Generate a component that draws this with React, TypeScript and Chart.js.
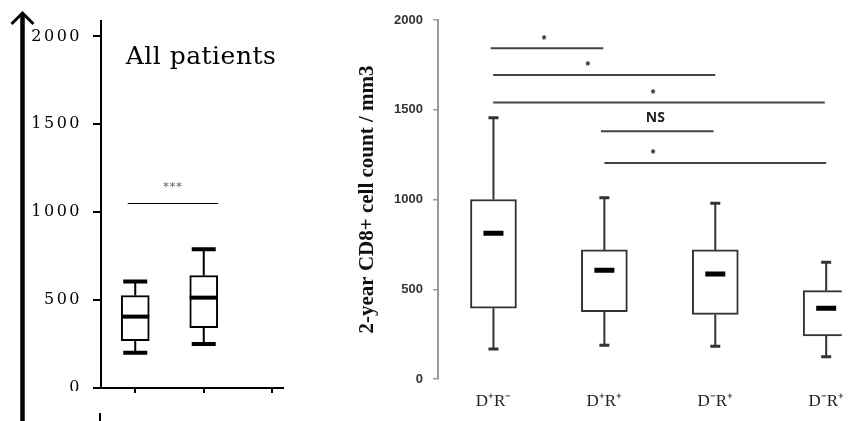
import React, { useEffect, useRef } from 'react';
import { Chart, registerables } from 'chart.js';
Chart.register(...registerables);

// ---------- Left panel: All patients ----------
const allPositions = [0.5, 1.5];
const allMin = [200, 251];
const allQ1 = [269, 343];
const allMedian = [406, 514];
const allQ3 = [526, 640];
const allMax = [606, 789];
const allTicks = [0, 500, 1000, 1500, 2000];
const allXTicks = [0, 1, 2];
const allTitle = 'All patients';
const allSigText = '***';
const allSigY = 1051;
const allSigFrom = 0.39;
const allSigTo = 1.71;

// ---------- Right panel: by D/R status ----------
const groupLabels = ['D⁺R⁻', 'D⁺R⁺', 'D⁻R⁺', 'D⁻R⁺'];
const groupPositions = [0.5, 1.5, 2.5, 3.5];
const groupMin = [167, 188, 182, 124];
const groupQ1 = [394, 375, 360, 240];
const groupMedian = [812, 606, 585, 394];
const groupQ3 = [1000, 719, 719, 492];
const groupMax = [1456, 1010, 979, 650];
const cd8Ticks = [0, 500, 1000, 1500, 2000];
const yTitle = '2-year CD8+ cell count / mm3';
const sigLabels = ['*', '*', '*', 'NS', '*'];
const sigY = [1842, 1693, 1541, 1380, 1203];
const sigFrom = [0.475, 0.497, 0.497, 1.469, 1.5];
const sigTo = [1.49, 2.5, 3.487, 2.484, 3.5];
const sigLabelX = [0.956, 1.35, 1.94, 1.96, 1.94];

type BoxStyle = {
  color: string;
  whiskerWidth: number;
  capHalf: number;
  capWidth: number;
  medHalf: number;
  medWidth: number;
};

function drawBoxes(chart: any, pos: number[], mn: number[], q1: number[], med: number[], q3: number[], mx: number[], st: BoxStyle) {
  const { ctx, scales } = chart;
  const x = scales.x;
  const y = scales.y;
  const ca = chart.chartArea;
  ctx.save();
  ctx.beginPath();
  ctx.rect(ca.left - 20, 0, ca.right - ca.left + 20, chart.height);
  ctx.clip();
  ctx.strokeStyle = st.color;
  ctx.lineCap = 'butt';
  for (let i = 0; i < pos.length; i++) {
    const px = x.getPixelForValue(pos[i]);
    ctx.lineWidth = st.whiskerWidth;
    ctx.beginPath();
    ctx.moveTo(px, y.getPixelForValue(q3[i]));
    ctx.lineTo(px, y.getPixelForValue(mx[i]));
    ctx.moveTo(px, y.getPixelForValue(q1[i]));
    ctx.lineTo(px, y.getPixelForValue(mn[i]));
    ctx.stroke();
    ctx.lineWidth = st.capWidth;
    ctx.beginPath();
    ctx.moveTo(px - st.capHalf, y.getPixelForValue(mx[i]));
    ctx.lineTo(px + st.capHalf, y.getPixelForValue(mx[i]));
    ctx.moveTo(px - st.capHalf, y.getPixelForValue(mn[i]));
    ctx.lineTo(px + st.capHalf, y.getPixelForValue(mn[i]));
    ctx.stroke();
    ctx.strokeStyle = '#000';
    ctx.lineWidth = st.medWidth;
    ctx.beginPath();
    ctx.moveTo(px - st.medHalf, y.getPixelForValue(med[i]));
    ctx.lineTo(px + st.medHalf, y.getPixelForValue(med[i]));
    ctx.stroke();
    ctx.strokeStyle = st.color;
  }
  ctx.restore();
}

const leftPlugin = {
  id: 'leftDecor',
  beforeDraw(chart: any) {
    const ctx = chart.ctx;
    ctx.save();
    ctx.fillStyle = '#fff';
    ctx.fillRect(0, 0, chart.width, chart.height);
    ctx.restore();
    (ctx as any).letterSpacing = '2.5px';
  },
  afterDatasetsDraw(chart: any) {
    drawBoxes(chart, allPositions, allMin, allQ1, allMedian, allQ3, allMax, {
      color: '#000', whiskerWidth: 2, capHalf: 12, capWidth: 4, medHalf: 14, medWidth: 4,
    });
    const { ctx, scales } = chart;
    const x = scales.x;
    const y = scales.y;
    ctx.save();
    (ctx as any).letterSpacing = '0px';
    ctx.strokeStyle = '#000';
    ctx.lineWidth = 1.2;
    const sy = Math.round(y.getPixelForValue(allSigY)) + 0.5;
    ctx.beginPath();
    ctx.moveTo(x.getPixelForValue(allSigFrom), sy);
    ctx.lineTo(x.getPixelForValue(allSigTo), sy);
    ctx.stroke();
    ctx.fillStyle = '#555';
    ctx.font = '11px "DejaVu Serif"';
    ctx.textAlign = 'center';
    ctx.textBaseline = 'middle';
    (ctx as any).letterSpacing = '1px';
    ctx.fillText(allSigText, (x.getPixelForValue(allSigFrom) + x.getPixelForValue(allSigTo)) / 2, sy - 16);
    ctx.fillStyle = '#000';
    ctx.font = '25px "DejaVu Serif"';
    (ctx as any).letterSpacing = '0.5px';
    ctx.fillText(allTitle, 201, 57);
    ctx.restore();
  },
  afterDraw(chart: any) {
    const ctx = chart.ctx;
    ctx.save();
    (ctx as any).letterSpacing = '0px';
    // lower part of the figure is cropped in the source image
    ctx.fillStyle = '#fff';
    ctx.fillRect(27, 391, 64, 30);
    ctx.strokeStyle = '#000';
    ctx.lineWidth = 4.5;
    ctx.beginPath();
    ctx.moveTo(22.5, 15);
    ctx.lineTo(22.5, 421);
    ctx.stroke();
    ctx.lineWidth = 3;
    ctx.beginPath();
    ctx.moveTo(11.5, 24);
    ctx.lineTo(22.5, 13);
    ctx.lineTo(33.5, 24);
    ctx.stroke();
    ctx.lineWidth = 2;
    ctx.beginPath();
    ctx.moveTo(100, 413);
    ctx.lineTo(100, 421);
    ctx.stroke();
    ctx.restore();
  },
};

const rightPlugin = {
  id: 'rightDecor',
  beforeDraw(chart: any) {
    const ctx = chart.ctx;
    ctx.save();
    ctx.fillStyle = '#fff';
    ctx.fillRect(0, 0, chart.width, chart.height);
    ctx.restore();
  },
  afterDatasetsDraw(chart: any) {
    drawBoxes(chart, groupPositions, groupMin, groupQ1, groupMedian, groupQ3, groupMax, {
      color: '#333', whiskerWidth: 2, capHalf: 5, capWidth: 3, medHalf: 10, medWidth: 5,
    });
    const { ctx, scales } = chart;
    const x = scales.x;
    const y = scales.y;
    ctx.save();
    ctx.strokeStyle = '#444';
    ctx.lineWidth = 2;
    ctx.textAlign = 'center';
    ctx.textBaseline = 'middle';
    ctx.fillStyle = '#222';
    for (let i = 0; i < sigY.length; i++) {
      const py = y.getPixelForValue(sigY[i]);
      ctx.beginPath();
      ctx.moveTo(x.getPixelForValue(sigFrom[i]), py);
      ctx.lineTo(Math.min(x.getPixelForValue(sigTo[i]), chart.width - 1), py);
      ctx.stroke();
      if (sigLabels[i] === 'NS') {
        ctx.font = 'bold 14px "Open Sans"';
        ctx.fillText(sigLabels[i], x.getPixelForValue(sigLabelX[i]), py - 13);
      } else {
        ctx.font = 'bold 12px "Liberation Sans"';
        ctx.fillText(sigLabels[i], x.getPixelForValue(sigLabelX[i]), py - 8);
      }
    }
    ctx.restore();
  },
};

export default function App() {
  const leftRef = useRef<HTMLCanvasElement>(null);
  const rightRef = useRef<HTMLCanvasElement>(null);

  useEffect(() => {
    const left = new Chart(leftRef.current as HTMLCanvasElement, {
      type: 'bar',
      data: {
        datasets: [
          {
            data: allPositions.map((p, i) => ({ x: p, y: [allQ1[i], allQ3[i]] })) as any,
            backgroundColor: '#fff',
            borderColor: '#000',
            borderWidth: 2,
            borderSkipped: false,
            barThickness: 28,
          },
        ],
      },
      options: {
        animation: false,
        responsive: false,
        devicePixelRatio: 1,
        events: [],
        layout: { padding: { top: 0, right: 17, bottom: 0, left: 0 } },
        plugins: { legend: { display: false }, tooltip: { enabled: false } },
        scales: {
          x: {
            type: 'linear',
            offset: false,
            min: 0,
            max: 2.657,
            afterBuildTicks: (s: any) => { s.ticks = allXTicks.map((v) => ({ value: v })); },
            afterFit: (s: any) => { s.height = 33; },
            ticks: { display: false },
            grid: { drawOnChartArea: false, drawTicks: true, tickLength: 5, color: '#000', lineWidth: 2 },
            border: { display: true, color: '#000', width: 2 },
          },
          y: {
            type: 'linear',
            min: 0,
            max: 2090,
            afterBuildTicks: (s: any) => { s.ticks = allTicks.map((v) => ({ value: v })); },
            afterFit: (s: any) => { s.width = 101; },
            ticks: {
              color: '#000',
              font: { family: '"DejaVu Serif"', size: 16 },
              padding: 11,
              callback: (v: any) => String(v),
            },
            grid: { drawOnChartArea: false, drawTicks: true, tickLength: 8, color: '#000', lineWidth: 2 },
            border: { display: true, color: '#000', width: 2 },
          },
        },
      },
      plugins: [leftPlugin],
    });

    const right = new Chart(rightRef.current as HTMLCanvasElement, {
      type: 'bar',
      data: {
        datasets: [
          {
            data: groupPositions.map((p, i) => ({ x: p, y: [groupQ1[i], groupQ3[i]] })) as any,
            backgroundColor: '#fff',
            borderColor: '#333',
            borderWidth: 2,
            borderSkipped: false,
            barThickness: 46,
          },
        ],
      },
      options: {
        animation: false,
        responsive: false,
        devicePixelRatio: 1,
        events: [],
        layout: { padding: { top: 20, right: 0, bottom: 0, left: 0 } },
        plugins: { legend: { display: false }, tooltip: { enabled: false } },
        scales: {
          x: {
            type: 'linear',
            offset: false,
            min: 0,
            max: 3.64,
            afterBuildTicks: (s: any) => { s.ticks = groupPositions.map((v) => ({ value: v })); },
            afterFit: (s: any) => { s.height = 42; },
            ticks: {
              color: '#222',
              font: { family: '"Liberation Serif"', size: 17 },
              padding: 4,
              maxRotation: 0,
              autoSkip: false,
              callback: (v: any) => {
                const i = groupPositions.indexOf(Number(v));
                return i >= 0 ? groupLabels[i] : '';
              },
            },
            grid: { display: false },
            border: { display: false },
          },
          y: {
            type: 'linear',
            min: 0,
            max: 2000,
            afterBuildTicks: (s: any) => { s.ticks = cd8Ticks.map((v) => ({ value: v })); },
            afterFit: (s: any) => { s.width = 138; },
            ticks: {
              color: '#333',
              font: { family: '"Liberation Sans"', size: 13, weight: 'bold' },
              padding: 10,
              callback: (v: any) => String(v),
            },
            grid: { drawOnChartArea: false, drawTicks: true, tickLength: 5, color: '#999', lineWidth: 1.5 },
            border: { display: true, color: '#999', width: 2 },
            title: {
              display: true,
              text: yTitle,
              color: '#111',
              font: { family: '"Liberation Serif"', size: 21, weight: 'bold' },
              padding: { top: 55, bottom: 0 },
            },
          },
        },
      },
      plugins: [rightPlugin],
    });

    return () => {
      left.destroy();
      right.destroy();
    };
  }, []);

  return (
    <div style={{ position: 'fixed', left: 0, top: 0, width: 848, height: 421, background: '#fff', overflow: 'hidden' }}>
      <canvas ref={leftRef} width={300} height={421} style={{ position: 'absolute', left: 0, top: 0 }} />
      <canvas ref={rightRef} width={548} height={421} style={{ position: 'absolute', left: 300, top: 0 }} />
    </div>
  );
}
